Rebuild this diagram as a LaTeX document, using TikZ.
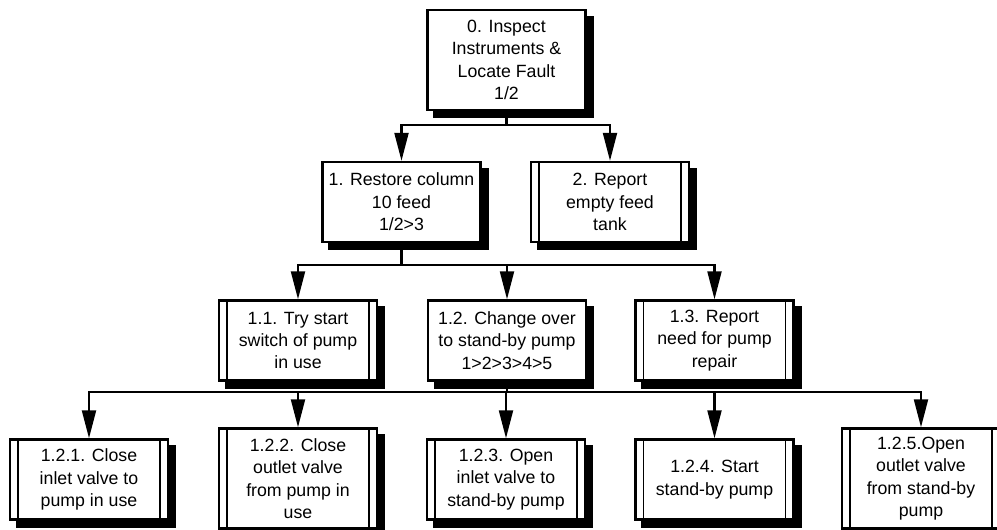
\documentclass[tikz,border=0pt]{standalone}
\usepackage{fontspec}
\setmainfont{Liberation Sans}
\usetikzlibrary{arrows.meta,backgrounds}
\begin{document}
\begin{tikzpicture}[x=0.75pt,y=-0.75pt,
  box/.style={draw, line width=1.8pt, fill=white, align=center, inner sep=0pt,
    minimum width=118.5pt, minimum height=60pt,
    font=\fontsize{13.3}{16.8}\selectfont},
  tall/.style={minimum height=75pt},
  leaf/.style={path picture={
    \draw[line width=1.3pt] ([xshift=6pt]path picture bounding box.north west) -- ([xshift=6pt]path picture bounding box.south west);
    \draw[line width=1.3pt] ([xshift=-6pt]path picture bounding box.north east) -- ([xshift=-6pt]path picture bounding box.south east);}},
  shade/.style={fill=black},
  conn/.style={line width=1.6pt},
  arr/.style={conn, -{Triangle[length=21pt,width=10.5pt]}}
]
\useasboundingbox (0,0) rectangle (997,530);
\clip (0,0) rectangle (997,530);

\node[box, tall] (n0) at (506.5,60) {0. Inspect\\Instruments \&\\Locate Fault\\1/2};
\node[box] (n1) at (401.5,202) {1. Restore column\\10 feed\\1/2>3};
\node[box, leaf] (n2) at (610,202) {2. Report\\empty feed\\tank};

\node[box, leaf] (n11) at (298,340.5) {1.1. Try start\\switch of pump\\in use};
\node[box] (n12) at (507,340.5) {1.2. Change over\\to stand-by pump\\1>2>3>4>5};
\node[box, leaf] (n13) at (714.5,340.5) {1.3. Report\\need for pump\\repair};

\node[box, leaf] (n121) at (89,479.5) {1.2.1. Close\\inlet valve to\\pump in use};
\node[box, leaf, tall] (n122) at (298,478.5) {1.2.2. Close\\outlet valve\\from pump in\\use};
\node[box, leaf] (n123) at (506,479.5) {1.2.3. Open\\inlet valve to\\stand-by pump};
\node[box, leaf] (n124) at (714.5,479.5) {1.2.4. Start\\stand-by pump};
\node[box, leaf, tall] (n125) at (921,478.5) {1.2.5.Open\\outlet valve\\from stand-by\\pump};

\begin{scope}[on background layer]
\foreach \n in {n0,n1,n2,n11,n12,n13,n121,n122,n123,n124,n125}{
  \fill[shade] ([shift={(7,7)}]\n.north west) rectangle ([shift={(7,7)}]\n.south east);
}
\end{scope}

\coordinate (b0) at (506.5,125);
\coordinate (b1) at (401.5,265);
\coordinate (b2) at (507,392);

\draw[conn] (n0.south) -- (b0);
\draw[arr] (b0) -| (n1.north);
\draw[arr] (b0) -| (n2.north);

\draw[conn] (n1.south) -- (b1);
\draw[arr] (b1) -| (n11.north);
\draw[arr] (b1) -| (n12.north);
\draw[arr] (b1) -| (n13.north);

\draw[conn] (n12.south) -- (b2);
\draw[arr] (b2) -| (n121.north);
\draw[arr] (b2) -| (n122.north);
\draw[arr] (b2) -| (n123.north);
\draw[arr] (b2) -| (n124.north);
\draw[arr] (b2) -| (n125.north);
\end{tikzpicture}
\end{document}
